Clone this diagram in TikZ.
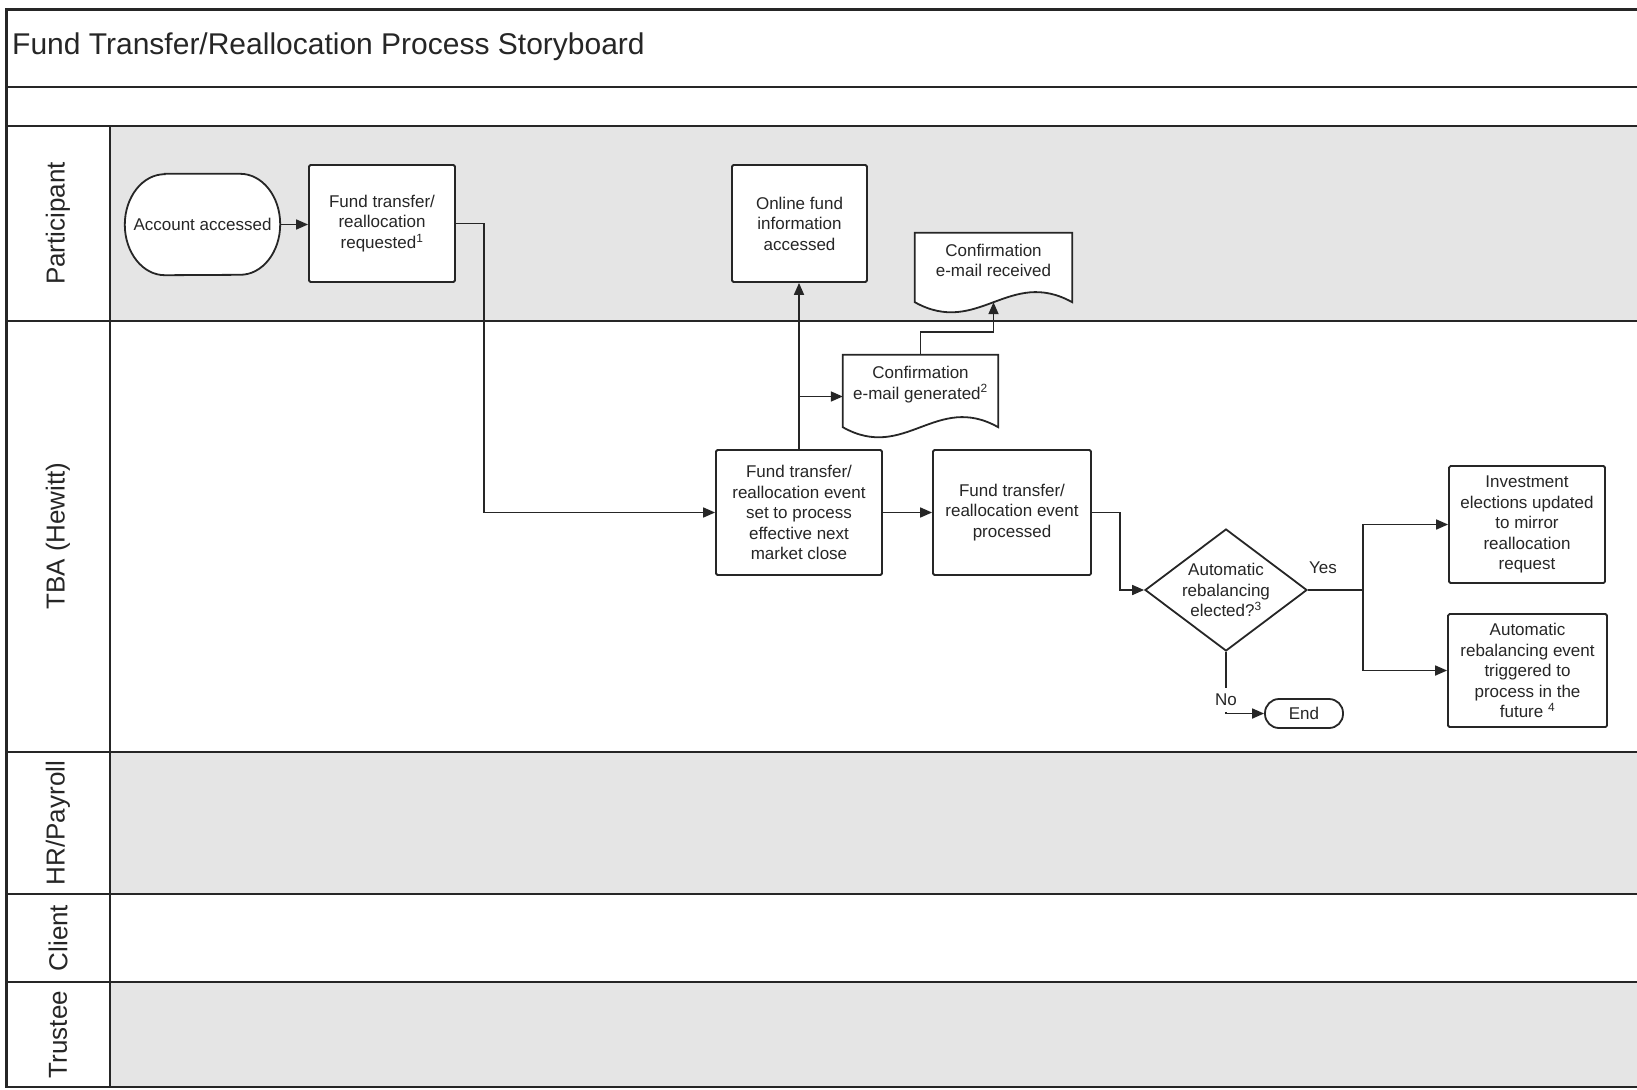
\documentclass[tikz,border=0pt]{standalone}
\usepackage{fontspec}
\setmainfont{Liberation Sans}
\usetikzlibrary{arrows.meta,shapes.geometric,calc,backgrounds}

\definecolor{lanegray}{HTML}{E5E5E5}
\definecolor{ink}{HTML}{262626}

\begin{document}
\begin{tikzpicture}[x=1pt,y=-1pt,
  every node/.style={font=\fontsize{17}{20.5}\selectfont, text=ink},
  box/.style={draw=ink, line width=1.8pt, fill=white, rounded corners=1.5pt, align=center, inner sep=0pt},
  docbox/.style={align=center, inner sep=0pt},
  shapeline/.style={draw=ink, line width=1.8pt, fill=white},
  lane/.style={draw=ink, line width=2.5pt},
  arr/.style={draw=ink, line width=1.7pt, -{Triangle[length=12pt,width=10pt]}},
  link/.style={draw=ink, line width=1.7pt},
  lanelabel/.style={rotate=90, font=\fontsize{26}{30}\selectfont},
]
\useasboundingbox (0,0) rectangle (1637,1089);

% title and lane names
\node[anchor=west, font=\fontsize{30}{36}\selectfont, inner sep=0pt] (title) at (12,47) {Fund Transfer/Reallocation Process Storyboard};
\node[lanelabel] (lpart) at (58,223.5) {Participant};
\node[lanelabel] (ltba) at (58,536) {TBA (Hewitt)};
\node[lanelabel] (lhr) at (58,823) {HR/Payroll};
\node[lanelabel] (lcli) at (58,938) {Client};
\node[lanelabel] (ltru) at (58,1034.5) {Trustee};

% process steps
\node[docbox, minimum width=155pt, minimum height=101pt] (acc) at (202.5,224.5) {Account accessed};
\node[box, minimum width=146pt, minimum height=117pt] (req) at (382,223.5) {Fund transfer/\\reallocation\\requested\textsuperscript{1}};
\node[box, minimum width=135pt, minimum height=117pt] (onl) at (799.5,223.5) {Online fund\\information\\accessed};
\node[docbox, minimum width=157pt, minimum height=55pt] (recv) at (993.5,260.5) {Confirmation\\e-mail received};
\node[docbox, minimum width=155pt, minimum height=59pt] (gen) at (920.5,384.5) {Confirmation\\e-mail generated\textsuperscript{2}};
\node[box, minimum width=166pt, minimum height=125pt] (ev) at (799,512.5) {Fund transfer/\\reallocation event\\set to process\\effective next\\market close};
\node[box, minimum width=158pt, minimum height=125pt] (proc) at (1012,512.5) {Fund transfer/\\reallocation event\\processed};
\node[draw=ink, line width=1.8pt, fill=white, diamond, aspect=1.33, minimum width=162pt, minimum height=122pt, inner sep=0pt, align=center] (dia) at (1226,590) {Automatic\\rebalancing\\elected?\textsuperscript{3}};
\node[box, minimum width=156pt, minimum height=117pt] (inv) at (1527,524.5) {Investment\\elections updated\\to mirror\\reallocation\\request};
\node[box, minimum width=159pt, minimum height=113pt] (aut) at (1527.5,670.5) {Automatic\\rebalancing event\\triggered to\\process in the\\future \textsuperscript{4}};
\node[box, rounded corners=14pt, minimum width=78pt, minimum height=29pt] (end) at (1304,713.5) {End};

% lanes, frame and outlined shapes behind the nodes
\begin{scope}[on background layer]
  \fill[lanegray] (110,126) rectangle (1637,321);
  \fill[lanegray] (110,752) rectangle (1637,894);
  \fill[lanegray] (110,982) rectangle (1637,1087);
  \draw[lane] (1637,9.5) -- (6.5,9.5) -- (6.5,1087) -- (1637,1087);
  \foreach \yy in {87,126,321,752,894,982} \draw[lane] (6.5,\yy) -- (1637,\yy);
  \draw[lane] (110,126) -- (110,1087);
  % terminator with elliptical ends
  \path[shapeline] ([xshift=40pt]acc.north west) -- ([xshift=-40pt]acc.north east)
    arc[start angle=90, end angle=-90, x radius=40pt, y radius=50.5pt]
    -- ([xshift=40pt]acc.south west)
    arc[start angle=270, end angle=90, x radius=40pt, y radius=50.5pt] -- cycle;
  % document shapes with wavy bottom edge
  \path[shapeline] (recv.north west) -- (recv.north east) -- ([yshift=-14pt]recv.south east)
    .. controls +(-63,-35) and +(63,35) .. ([yshift=-14pt]recv.south west) -- cycle;
  \path[shapeline] (gen.north west) -- (gen.north east) -- ([yshift=-13pt]gen.south east)
    .. controls +(-62,-35) and +(62,35) .. ([yshift=-13pt]gen.south west) -- cycle;
\end{scope}

% connectors
\coordinate (gin) at ([yshift=-12pt]gen.west);
\coordinate (rin) at ([yshift=-14pt]recv.south);
\coordinate (yb) at ([xshift=55pt]dia.east);
\draw[arr] (acc.east) -- (acc.east -| req.west);
\draw[arr] (req.east) -- ++(28,0) |- (ev.west);
\draw[arr] (ev.north) -- (ev.north |- onl.south);
\draw[arr] (ev.north |- gin) -- (gin);
\draw[arr] (gen.north) -- ++(0,-23) -| (rin);
\draw[arr] (ev.east) -- (proc.west);
\draw[arr] (proc.east) -- ++(28,0) |- (dia.west);
\draw[link] (dia.east) -- (yb);
\draw[arr] (yb) |- (inv.west);
\draw[arr] (yb) |- (aut.west);
\node (yes) at (1323,568) {Yes};
\draw[arr] (dia.south) |- (end.west) node[pos=0.39, fill=white, inner sep=0pt, minimum height=24pt, minimum width=22pt] (no) {No};
\end{tikzpicture}
\end{document}
